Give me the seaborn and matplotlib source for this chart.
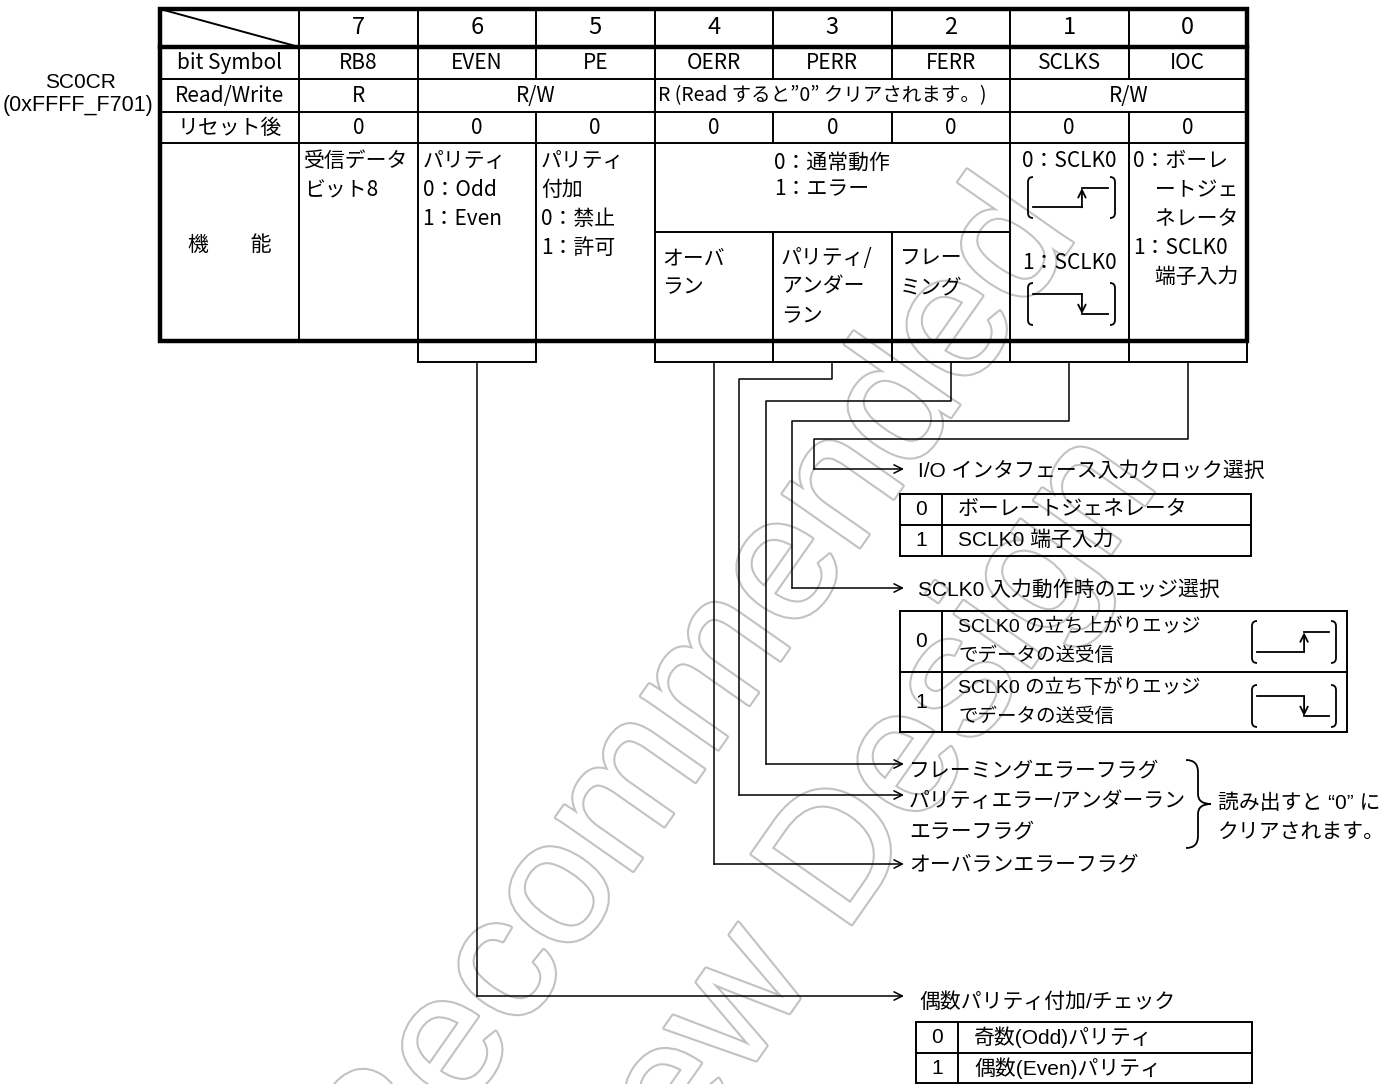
"""
SC0CR register layout (serial channel 0 control register).
Redraws the register table, the bit lead lines and the setting tables.
"""

import matplotlib
matplotlib.use('Agg')
import matplotlib.pyplot as plt
import matplotlib.patheffects as pe
from matplotlib.patches import Rectangle, PathPatch
from matplotlib.path import Path
import seaborn as sns

sns.set_theme(style='white')
plt.rcParams['font.family'] = ['Noto Sans CJK JP', 'DejaVu Sans']

# ============================================================================
# Register contents
# ============================================================================
REG_NAME = 'SC0CR'
REG_ADDR = '(0xFFFF_F701)'
BITS = ['7', '6', '5', '4', '3', '2', '1', '0']
SYMBOLS = ['RB8', 'EVEN', 'PE', 'OERR', 'PERR', 'FERR', 'SCLKS', 'IOC']
RESET = ['0', '0', '0', '0', '0', '0', '0', '0']
ROW_TITLES = ['bit Symbol', 'Read/Write', 'リセット後', '機　　能']
RW_TEXT = ['R', 'R/W', 'R (Read すると”0” クリアされます。)', 'R/W']
RW_SPAN = [(7, 7), (6, 5), (4, 2), (1, 0)]

FUNC_TEXT = {
    7: ['受信データ', 'ビット8'],
    6: ['パリティ', '0：Odd', '1：Even'],
    5: ['パリティ', '付加', '0：禁止', '1：許可'],
    0: ['0：ボーレ', '　ートジェ', '　ネレータ', '1：SCLK0', '　端子入力'],
}
ERR_COMMON = ['0：通常動作', '1：エラー']
ERR_TEXT = {4: ['オーバ', 'ラン'], 3: ['パリティ/', 'アンダー', 'ラン'], 2: ['フレー', 'ミング']}
SCLKS_TEXT = ['0：SCLK0', '1：SCLK0']

IOC_TITLE = 'I/O インタフェース入力クロック選択'
IOC_ROWS = [('0', 'ボーレートジェネレータ'), ('1', 'SCLK0 端子入力')]
SCLKS_TITLE = 'SCLK0 入力動作時のエッジ選択'
SCLKS_ROWS = [('0', ['SCLK0 の立ち上がりエッジ', 'でデータの送受信']),
              ('1', ['SCLK0 の立ち下がりエッジ', 'でデータの送受信'])]
FLAG_TEXT = {2: ['フレーミングエラーフラグ'],
             3: ['パリティエラー/アンダーラン', 'エラーフラグ'],
             4: ['オーバランエラーフラグ']}
BRACE_NOTE = ['読み出すと “0” に', 'クリアされます。']
EVEN_TITLE = '偶数パリティ付加/チェック'
EVEN_ROWS = [('0', '奇数(Odd)パリティ'), ('1', '偶数(Even)パリティ')]
WATERMARK = ['Recommended', 'New Design']

# ============================================================================
# Layout (pixels, y grows downward)
# ============================================================================
W, H = 1387, 1084
TBL_L, COL0_R, COL_W = 160, 299, 118.5
ROW_Y = [9, 47, 79, 112, 143, 341]
ERR_SPLIT = 232
BRK_Y = 362
ARROW_X = 904
LW_THICK, LW_THIN, LW_LEAD = 3.2, 1.4, 1.1

TBL = dict(family=['Noto Sans CJK JP', 'DejaVu Sans'], fontsize=15, color='black')
NOTE = dict(family=['Liberation Sans', 'Noto Sans CJK JP'], fontsize=15, color='black')


def col_left(bit):
    return COL0_R + (7 - bit) * COL_W


def col_mid(bit):
    return col_left(bit) + COL_W / 2


TBL_R = col_left(0) + COL_W

fig = plt.figure(figsize=(W / 100, H / 100), dpi=100)
ax = fig.add_axes([0, 0, 1, 1])
ax.set_xlim(0, W)
ax.set_ylim(H, 0)
ax.axis('off')


def line(xs, ys, lw=LW_THIN):
    ax.plot(xs, ys, color='black', lw=lw, solid_capstyle='projecting', zorder=2)


def lines_of_text(x, y0, rows, dy=29, font=TBL, **kw):
    for i, t in enumerate(rows):
        ax.text(x, y0 + i * dy, t, va='center', zorder=3, **font, **kw)


def arrow(x0, y0, x1, y1, lw=LW_LEAD, scale=10):
    ax.annotate('', xy=(x1, y1), xytext=(x0, y0), zorder=3,
                arrowprops=dict(arrowstyle='->,head_length=0.6,head_width=0.3',
                                lw=lw, color='black', shrinkA=0, shrinkB=0,
                                mutation_scale=scale))


def edge_icon(l, t, r, b, rising, lw=1.3):
    c = 5
    for x, s in ((l, 1), (r, -1)):
        p = Path([(x + s * c, t), (x, t), (x, t + c), (x, b - c), (x, b), (x + s * c, b)],
                 [Path.MOVETO, Path.CURVE3, Path.CURVE3, Path.LINETO, Path.CURVE3, Path.CURVE3])
        ax.add_patch(PathPatch(p, fill=False, lw=lw, edgecolor='black', zorder=3))
    w, h = r - l, b - t
    lo, hi = b - 0.26 * h, t + 0.27 * h
    xs, xstep, xe = l + 0.06 * w, l + 0.62 * w, r - 0.08 * w
    y_a, y_b = (lo, hi) if rising else (hi, lo)
    line([xs, xstep], [y_a, y_a], lw)
    line([xstep, xe], [y_b, y_b], lw)
    arrow(xstep, y_a, xstep, y_b, lw=lw, scale=9)


# ---------------------------------------------------------------- watermark
for word, (wx, wy) in zip(WATERMARK, [(388, 1221), (611, 1268)]):
    ax.text(wx, wy, word, rotation=55, rotation_mode='anchor', ha='left', va='baseline',
            fontsize=128, family='Liberation Sans', color='white', zorder=0, clip_on=True,
            path_effects=[pe.Stroke(linewidth=3, foreground='#c2c2c2'), pe.Normal()])

# ---------------------------------------------------------------- register name
ax.text(80, 83, REG_NAME, ha='center', va='center', **{**NOTE, 'fontsize': 15})
ax.text(78, 105, REG_ADDR, ha='center', va='center', **{**NOTE, 'fontsize': 15.5})

# ---------------------------------------------------------------- table frame
ax.add_patch(Rectangle((TBL_L, ROW_Y[0]), TBL_R - TBL_L, ROW_Y[-1] - ROW_Y[0],
                       fill=False, lw=LW_THICK, edgecolor='black', zorder=4))
line([TBL_L, TBL_R], [ROW_Y[1]] * 2, LW_THICK)
for y in ROW_Y[2:5]:
    line([TBL_L, TBL_R], [y, y])
line([COL0_R, COL0_R], [ROW_Y[0], ROW_Y[-1]])
line([TBL_L, COL0_R], [ROW_Y[0], ROW_Y[1]])
line([col_left(4), col_left(1)], [ERR_SPLIT] * 2)

group_edges = {col_left(hi) for hi, lo in RW_SPAN}
for bit in range(6, -1, -1):
    x = col_left(bit)
    line([x, x], [ROW_Y[0], ROW_Y[2]])
    line([x, x], [ROW_Y[3], ROW_Y[4]])
    if x in group_edges:
        line([x, x], [ROW_Y[2], ROW_Y[3]])
    line([x, x], [ERR_SPLIT if bit in (3, 2) else ROW_Y[4], ROW_Y[5]])

# ---------------------------------------------------------------- table text
mid = lambda i: (ROW_Y[i] + ROW_Y[i + 1]) / 2
for i, t in enumerate(ROW_TITLES[:3]):
    ax.text((TBL_L + COL0_R) / 2, mid(i + 1), t, ha='center', va='center', **TBL)
ax.text((TBL_L + COL0_R) / 2, 245, ROW_TITLES[3], ha='center', va='center', **TBL)

for i, bit in enumerate(range(7, -1, -1)):
    ax.text(col_mid(bit), mid(0), BITS[i], ha='center', va='center', **{**TBL, 'fontsize': 17})
    ax.text(col_mid(bit), mid(1), SYMBOLS[i], ha='center', va='center', **TBL)
    ax.text(col_mid(bit), mid(3), RESET[i], ha='center', va='center', **TBL)

for t, (hi, lo) in zip(RW_TEXT, RW_SPAN):
    if hi == 4:
        ax.text(col_left(hi) + 4, mid(2), t, ha='left', va='center', **{**TBL, 'fontsize': 14})
    else:
        ax.text((col_left(hi) + col_left(lo) + COL_W) / 2, mid(2), t,
                ha='center', va='center', **TBL)

for bit, rows in FUNC_TEXT.items():
    lines_of_text(col_left(bit) + 5, 161, rows, ha='left')
ax.text(col_mid(3), 175.5, '\n'.join(ERR_COMMON), ha='center', va='center',
        multialignment='left', linespacing=1.25, zorder=3, **TBL)
for bit, rows in ERR_TEXT.items():
    lines_of_text(col_left(bit) + 8, 258, rows, ha='left')

ax.text(col_mid(1), 161, SCLKS_TEXT[0], ha='center', va='center', **TBL)
ax.text(col_mid(1), 263, SCLKS_TEXT[1], ha='center', va='center', **TBL)
edge_icon(1028, 177, 1115, 218, rising=True)
edge_icon(1028, 283, 1115, 325, rising=False)

# ---------------------------------------------------------------- bit brackets
line([col_left(6), col_left(6) + COL_W], [BRK_Y] * 2)
for x in (col_left(6), col_left(6) + COL_W):
    line([x, x], [ROW_Y[-1], BRK_Y])
line([col_left(4), TBL_R], [BRK_Y] * 2)
for bit in range(4, -2, -1):
    x = col_left(bit) if bit >= 0 else TBL_R
    line([x, x], [ROW_Y[-1], BRK_Y])

LEADS = {0: (439, 814, 469), 1: (421, 792, 588), 2: (401, 766, 764),
         3: (379, 739, 795), 4: (None, None, 864), 6: (None, None, 996)}
for bit, (jog_y, drop_x, end_y) in LEADS.items():
    x = col_mid(bit)
    if jog_y is None:
        drop_x = x
        line([x, x], [BRK_Y, end_y], LW_LEAD)
    else:
        line([x, x, drop_x, drop_x], [BRK_Y, jog_y, jog_y, end_y], LW_LEAD)
    arrow(drop_x, end_y, ARROW_X, end_y)

# ---------------------------------------------------------------- setting tables


def sub_table(x0, x1, xd, ys):
    ax.add_patch(Rectangle((x0, ys[0]), x1 - x0, ys[-1] - ys[0], fill=False,
                           lw=LW_THIN, edgecolor='black', zorder=2))
    for y in ys[1:-1]:
        line([x0, x1], [y, y])
    line([xd, xd], [ys[0], ys[-1]])


ax.text(918, 471, IOC_TITLE, ha='left', va='center', **NOTE)
ys1 = [494, 525, 556]
sub_table(900, 1251, 942, ys1)
for i, (k, t) in enumerate(IOC_ROWS):
    yc = (ys1[i] + ys1[i + 1]) / 2
    ax.text(921, yc, k, ha='center', va='center', **NOTE)
    ax.text(958, yc, t, ha='left', va='center', **NOTE)

ax.text(918, 590, SCLKS_TITLE, ha='left', va='center', **NOTE)
ys2 = [611, 672, 732]
sub_table(900, 1347, 942, ys2)
for i, (k, rows) in enumerate(SCLKS_ROWS):
    yc = (ys2[i] + ys2[i + 1]) / 2
    ax.text(921, yc, k, ha='center', va='center', **NOTE)
    lines_of_text(958, yc - 14.5, rows, font={**NOTE, 'fontsize': 14}, ha='left')
edge_icon(1252, 621, 1336, 663, rising=True)
edge_icon(1252, 685, 1336, 727, rising=False)

ax.text(909, 771, FLAG_TEXT[2][0], ha='left', va='center', **NOTE)
lines_of_text(909, 801, FLAG_TEXT[3], dy=31, font=NOTE, ha='left')
ax.text(909, 865, FLAG_TEXT[4][0], ha='left', va='center', **NOTE)

bx, by0, by1, tip = 1186, 760, 848, 1211
ym = (by0 + by1) / 2
bv = bx + 12
brace = Path([(bx, by0), (bv, by0), (bv, by0 + 12), (bv, ym - 10), (bv, ym), (tip, ym),
              (bv, ym), (bv, ym + 10), (bv, by1 - 12), (bv, by1), (bx, by1)],
             [Path.MOVETO, Path.CURVE3, Path.CURVE3, Path.LINETO, Path.CURVE3, Path.CURVE3,
              Path.CURVE3, Path.CURVE3, Path.LINETO, Path.CURVE3, Path.CURVE3])
ax.add_patch(PathPatch(brace, fill=False, lw=1.3, edgecolor='black', zorder=3))
lines_of_text(1218, 803, BRACE_NOTE, dy=29, font=NOTE, ha='left')

ax.text(919, 1002, EVEN_TITLE, ha='left', va='center', **NOTE)
ys3 = [1022, 1053, 1083]
sub_table(916, 1252, 958, ys3)
for i, (k, t) in enumerate(EVEN_ROWS):
    yc = (ys3[i] + ys3[i + 1]) / 2
    ax.text(937, yc, k, ha='center', va='center', **NOTE)
    ax.text(974, yc, t, ha='left', va='center', **NOTE)

fig.savefig('out.png', dpi=100, facecolor='white')
print('saved out.png')
